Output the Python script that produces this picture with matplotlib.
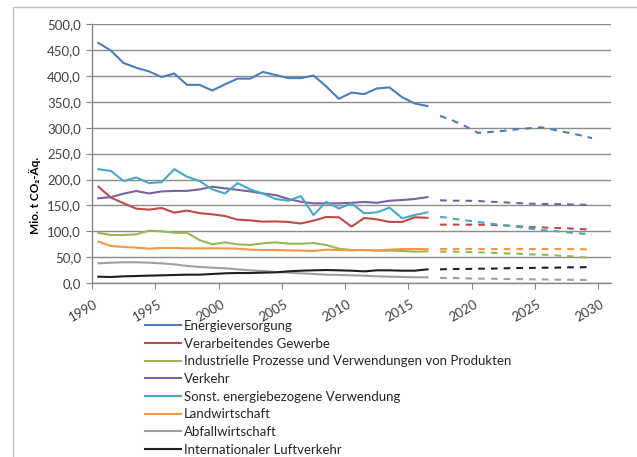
import numpy as np
import matplotlib
matplotlib.use("Agg")
import matplotlib.pyplot as plt
import matplotlib.transforms as mtransforms
from matplotlib.patches import Rectangle

plt.rcParams['font.family'] = ['Lato', 'DejaVu Sans']

# Jahre
years_hist = np.arange(1990, 2017)
years_proj = np.arange(2017, 2030)

# Emissionen in Mio. t CO2-Äq. (historisch 1990-2016)
energie = [464, 449, 425, 416, 409, 398, 405, 383, 383, 372, 384, 395, 395, 408,
           402, 396, 396, 401, 380, 356, 368, 365, 376, 378, 359, 347, 342]
gewerbe = [186, 165, 154, 143.7, 141.8, 145, 136, 140, 135, 132.7, 129.5, 122.4, 121,
           118.6, 119, 118, 115, 120.5, 127.6, 127, 109, 125.6, 123, 118, 118, 127, 126]
prozesse = [97, 92.8, 92.8, 94, 101, 100, 97, 97, 83, 74.7, 78.6, 74.7, 73.5, 76.7,
            78.6, 76, 76, 77.3, 73.5, 66.4, 63.8, 63.8, 62.5, 62.5, 61.9, 60.6, 61.2]
verkehr = [163.7, 166, 172.7, 177.8, 173, 177, 178, 178, 181, 186, 183, 180, 177, 173,
           170, 162.4, 157, 154, 154, 154, 155, 156.6, 155, 159, 160.4, 162.4, 166]
sonstige = [220, 216.5, 197, 204, 193, 195, 220, 205.5, 197, 181, 173, 193, 181, 173,
            162.4, 159, 168, 131.4, 157, 144, 154, 134.7, 136.6, 145.6, 125, 131.4, 136.6]
landwirt = [80, 71.5, 69.6, 68.3, 66.4, 67.7, 67.7, 67, 67, 67, 67, 66.4, 64.4, 63.8,
            63.8, 63.1, 62.5, 61.9, 64.4, 63.8, 63.1, 63.8, 63.1, 64.4, 65.7, 65.7, 65.7]
abfall = [38, 39.3, 40, 40, 39.3, 38, 36, 33, 31, 29.6, 28.4, 26.4, 24.5, 23.2,
          21.3, 20, 18.7, 17.4, 16.1, 15.5, 14.8, 14.2, 12.9, 12.2, 11.6, 11, 11]
luftverkehr = [12.2, 11.6, 12.9, 13.5, 14.2, 14.8, 15.5, 16.1, 16.1, 17.4, 18.7, 19.3, 19.3, 20,
               20.6, 22.5, 23.8, 24.5, 25.1, 24.5, 23.8, 22.5, 24.5, 24.5, 23.8, 23.8, 26.4]

# Projektion 2017-2029
energie_p = [323, 314, 303, 290, 292, 294, 297, 299, 301, 296, 291, 286, 280]
gewerbe_p = [112.8, 112.8, 112.8, 112.8, 112, 111.5, 110, 108, 107.6, 106.3, 105.7, 104.4, 103]
prozesse_p = [60.6, 60.6, 60, 59.3, 58.6, 57.3, 56.7, 55.4, 54.8, 53.5, 52.2, 50.3, 48.3]
verkehr_p = [159.8, 159, 159, 158.5, 157, 156, 154.6, 153.4, 152.7, 152.7, 152, 151.4, 150.8]
sonstige_p = [128, 124.4, 121, 118, 114.7, 111.5, 109, 105.7, 102.4, 100.5, 98, 96, 93.4]
landwirt_p = [65.7, 65.7, 65.7, 65.7, 65.7, 65.7, 65.7, 65.7, 65.7, 65.7, 65.7, 65.4, 65]
abfall_p = [9.7, 9.7, 9, 8.4, 8.4, 7.7, 7.7, 7.1, 7.1, 6.4, 6.4, 5.8, 5.8]
luftverkehr_p = [26.4, 27, 27, 27.7, 27.7, 28.4, 29, 29, 29.6, 29.6, 30.3, 30.3, 30.9]

labels = ['Energieversorgung', 'Verarbeitendes Gewerbe',
          'Industrielle Prozesse und Verwendungen von Produkten', 'Verkehr',
          'Sonst. energiebezogene Verwendung', 'Landwirtschaft',
          'Abfallwirtschaft', 'Internationaler Luftverkehr']
colors = ['#4A7EBB', '#BE4B48', '#98B954', '#7D60A0', '#46AAC5', '#F79646',
          '#A0A0A0', '#1F1F1F']
hist = [energie, gewerbe, prozesse, verkehr, sonstige, landwirt, abfall, luftverkehr]
proj = [energie_p, gewerbe_p, prozesse_p, verkehr_p, sonstige_p, landwirt_p, abfall_p,
        luftverkehr_p]

tick_years = np.arange(1990, 2031, 5)
y_ticks = np.arange(0, 501, 50)

fig = plt.figure(figsize=(6.37, 4.57), dpi=100)
W, H = 637, 457
# Rahmen des Diagrammbereichs
fig.patches.append(Rectangle((13 / W, -0.1), 1.2, 1 - 7 / H + 0.1, transform=fig.transFigure,
                             fill=False, edgecolor='#BFBFBF', lw=1.0))

ax = fig.add_axes([92 / W, 1 - 283 / H, (611 - 92) / W, (283 - 24.3) / H])

for h, p, c, lab in zip(hist, proj, colors, labels):
    ax.plot(years_hist, h, color=c, lw=1.5, label=lab, solid_joinstyle='round')
    ln, = ax.plot(years_proj, p, color=c, lw=1.5)
    ln.set_dashes([3.2, 2.9])

ax.set_xlim(1989.5, 2030.5)
ax.set_ylim(0, 500)
ax.set_yticks(y_ticks)
ax.set_yticklabels([f'{v:.1f}'.replace('.', ',') for v in y_ticks])
ax.set_xticks(tick_years - 0.5)
ax.set_xticklabels([str(y) for y in tick_years], rotation=30, ha='right',
                   rotation_mode='anchor')
ax.tick_params(axis='both', labelsize=9.5, colors='#404040', length=4, width=0.8,
               color='#868686')
ax.tick_params(axis='x', pad=7)
ax.tick_params(axis='y', pad=4)
shift = mtransforms.ScaledTranslation(2 / 100, 0, fig.dpi_scale_trans)
for lbl in ax.get_xticklabels():
    lbl.set_transform(lbl.get_transform() + shift)
ax.grid(axis='y', color='#8C8C8C', lw=1.0)
ax.set_axisbelow(True)
for s in ['top', 'right']:
    ax.spines[s].set_visible(False)
for s in ['left', 'bottom']:
    ax.spines[s].set_color('#868686')
    ax.spines[s].set_linewidth(1.0)

fig.text(35 / W, 1 - 195 / H, 'Mio. t CO₂-Äq.', rotation=90, ha='center', va='center',
         fontsize=8.5, fontweight='bold', color='#000000')

handles, labs = ax.get_legend_handles_labels()
fig.legend(handles, labs, loc='upper left', bbox_to_anchor=(145 / W, 1 - 320 / H),
           bbox_transform=fig.transFigure, frameon=False, fontsize=9.5,
           handlelength=2.7, handletextpad=0.25, labelspacing=0.43, borderpad=0,
           borderaxespad=0, labelcolor='#262626')

fig.savefig('out.png', dpi=100)
